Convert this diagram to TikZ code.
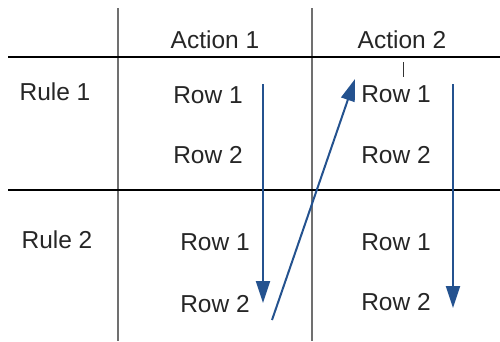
\documentclass[tikz,border=0pt]{standalone}
\usepackage{fontspec}
\setmainfont{Liberation Sans}
\usetikzlibrary{arrows.meta}
\definecolor{arrowblue}{HTML}{24528F}
\definecolor{rulegray}{HTML}{707070}
\begin{document}
\begin{tikzpicture}[x=1pt,y=-1pt,
  lbl/.style={inner sep=0pt,font=\fontsize{24.5}{28}\selectfont,text=black!85},
  hline/.style={line width=1.2pt,black},
  vline/.style={line width=1.6pt,rulegray},
  flow/.style={line width=2pt,arrowblue,-{Triangle[length=22pt,width=14pt]}}]
\useasboundingbox (0,0) rectangle (500,341);
% grid lines
\draw[vline] (118,8) -- (118,341);
\draw[vline] (312,8) -- (312,341);
\draw[hline] (8,57) -- (500,57);
\draw[hline] (8,190) -- (500,190);
% headers
\node[lbl] (a1) at (215,40) {Action 1};
\node[lbl] (a2) at (402,40) {Action 2};
\node[lbl] (r1) at (55,92) {Rule 1};
\node[lbl] (r2) at (57,240) {Rule 2};
% rows, action 1
\node[lbl] (a1r11) at (208,95) {Row 1};
\node[lbl] (a1r12) at (208,155) {Row 2};
\node[lbl] (a1r21) at (215,242) {Row 1};
\node[lbl] (a1r22) at (215,304) {Row 2};
% rows, action 2
\node[lbl] (a2r11) at (396,94) {Row 1};
\node[lbl] (a2r12) at (396,155) {Row 2};
\node[lbl] (a2r21) at (396,242) {Row 1};
\node[lbl] (a2r22) at (396,302) {Row 2};
% small tick above the second column's first row
\coordinate (tickA) at (403,62);
\coordinate (tickB) at (403,77);
\draw[line width=1pt,black!80] (tickA) -- (tickB);
% flow arrows
\coordinate (d1s) at (263,84);
\coordinate (d1e) at (263,303);
\coordinate (ups) at (272,320);
\coordinate (upe) at (355,79);
\coordinate (d2s) at (453,84);
\coordinate (d2e) at (453,308);
\draw[flow] (d1s) -- (d1e);
\draw[flow] (ups) -- (upe);
\draw[flow] (d2s) -- (d2e);
\end{tikzpicture}
\end{document}
